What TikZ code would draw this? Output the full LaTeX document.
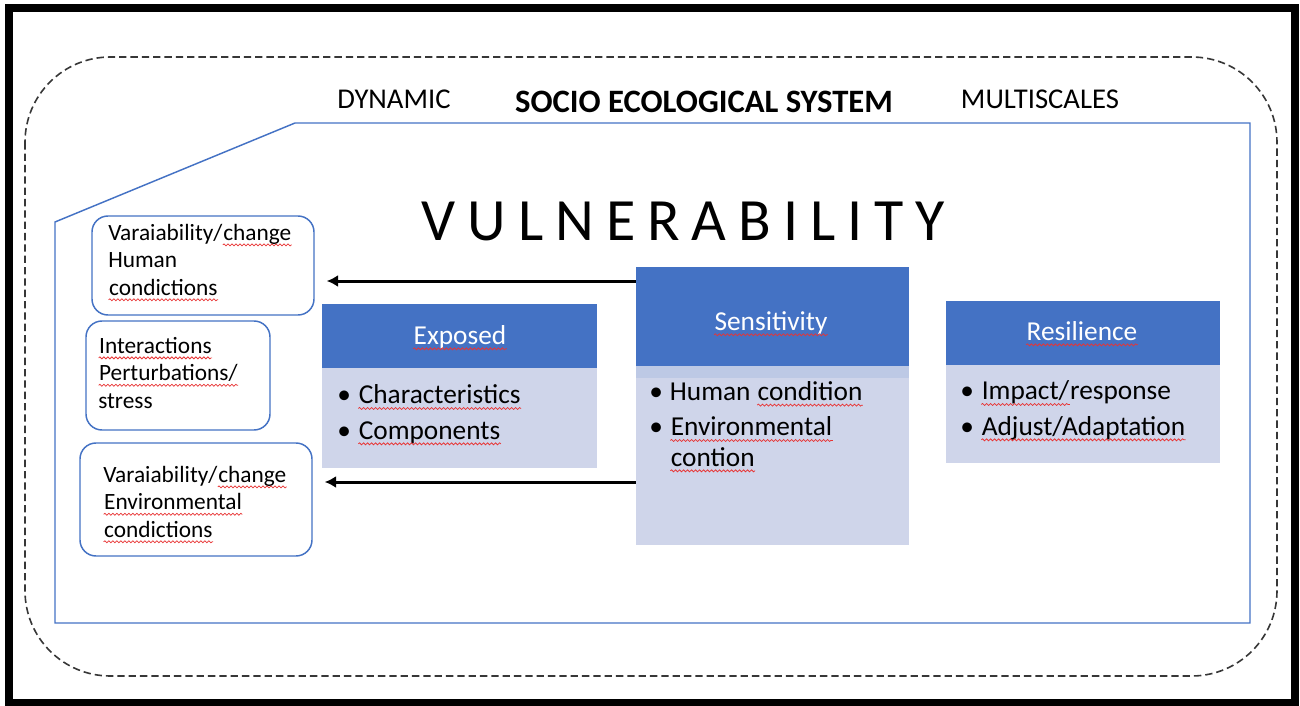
\documentclass[tikz,border=0pt]{standalone}
\usepackage{fontspec}
\setmainfont{Carlito}
\usetikzlibrary{arrows.meta,decorations.pathmorphing}

\definecolor{hdblue}{RGB}{68,114,196}
\definecolor{bdblue}{RGB}{207,213,234}
\definecolor{stripblue}{RGB}{189,201,229}
\definecolor{spellred}{RGB}{232,52,52}
\definecolor{dashgray}{RGB}{55,55,55}

\tikzset{every picture/.style={line width=0.75pt}}
\tikzset{
  condbox/.style={draw=hdblue, line width=1.1pt, rounded corners=12pt, fill=white, inner sep=0pt},
  condtext/.style={font=\fontsize{17.5}{20.6}\selectfont, align=left, inner sep=0pt},
  headbox/.style={fill=hdblue, inner sep=0pt, minimum width=#1},
  bodybox/.style={fill=bdblue, inner sep=0pt, minimum width=#1},
  headtext/.style={font=\fontsize{20.5}{24}\selectfont, text=white, inner sep=0pt},
  listtext/.style={font=\fontsize{20.5}{26.5}\selectfont, align=left, inner sep=0pt},
  captext/.style={font=\fontsize{21.5}{25}\selectfont, inner sep=0pt},
  flowarrow/.style={line width=2.25pt, -{Latex[length=8.5pt,width=9pt]}, shorten >=9pt},
  spellwave/.style={spellred, line width=0.55pt, decorate, decoration={snake, amplitude=0.75pt, segment length=3pt}}
}

% red wavy underline as in the screenshot
\newcommand\sqw[1]{\tikz[reset cm, x=1pt, y=1pt, baseline=0pt]{%
  \node [inner sep=0pt, anchor=base west] (sqw) at (0,0) {#1};
  \draw [spellwave] (sqw.base west |- 0,-3.6) -- (sqw.base east |- 0,-3.6);}}
\newcommand\bitem{\makebox[15.5pt][l]{\textbullet}}

\begin{document}
\begin{tikzpicture}[x=0.75pt,y=0.75pt,yscale=-1,xscale=1]
\useasboundingbox (0,0) rectangle (1300,706);

%Shape: Frame
\draw [line width=6pt] (8.5,8) rectangle (1295,703) ;
%Shape: Rounded Rect (dashed)
\draw [dashgray, line width=1.2pt, dash pattern=on 5.5pt off 3pt, rounded corners=64pt] (25,57) rectangle (1277,676) ;
%Shape: Polygon
\draw [hdblue, line width=1.1pt] (55,222) -- (295,123) -- (1250,123) -- (1250,623) -- (55,623) -- cycle ;

% Text Node
\node [captext, anchor=base] (dyn) at (394,109) {DYNAMIC};
% Text Node
\node [captext, font=\fontsize{24.5}{28}\selectfont\bfseries, anchor=base] (ses) at (704,113) {SOCIO ECOLOGICAL SYSTEM};
% Text Node
\node [captext, anchor=base] (msc) at (1040,109) {MULTISCALES};
% Text Node
\node [inner sep=0pt, font=\fontsize{45}{50}\selectfont\addfontfeatures{LetterSpace=20}, anchor=base west] (vul) at (421,241) {VULNERABILITY};

%Shape: Rounded Rect
\node [condbox, minimum width=166.5pt, minimum height=74.25pt] (hum) at (203,265.5) {};
\node [condtext, anchor=base west] (humtxt) at (108,295) {Varaiability/\sqw{change}\\Human\\\sqw{condictions}};
%Shape: Rounded Rect
\node [condbox, minimum width=138pt, minimum height=81.75pt] (inter) at (178,375.5) {};
\node [condtext, anchor=base west] (intertxt) at (98,408) {\sqw{Interactions}\\\sqw{Perturbations/}\\stress};
%Shape: Rounded Rect
\node [condbox, minimum width=174pt, minimum height=84.75pt] (env) at (196,499.5) {};
\node [condtext, anchor=base west] (envtxt) at (103,537) {Varaiability/\sqw{change}\\\sqw{Environmental}\\\sqw{condictions}};

%Shape: Rectangle - Exposed
\node [headbox=206.25pt, minimum height=48pt] (expH) at (459.5,336) {};
\node [bodybox=206.25pt, minimum height=75pt] (expB) at (459.5,418) {};
\node [headtext, anchor=base] (expL) at (460,344) {\sqw{Exposed}};
\node [listtext, anchor=base west] (expT) at (337,439) {\bitem\sqw{Characteristics}\\\bitem\sqw{Components}};

%Shape: Rectangle - Sensitivity
\node [headbox=204.75pt, minimum height=74.25pt] (sensH) at (772.5,316.5) {};
\node [bodybox=204.75pt, fill=stripblue, minimum height=9pt] (sensS) at (772.5,372) {};
\node [bodybox=204.75pt, minimum height=125.25pt] (sensB) at (772.5,461.5) {};
\node [headtext, anchor=base] (sensL) at (771,330) {\sqw{Sensitivity}};
\node [listtext, anchor=base west] (sensT) at (649,466) {\bitem Human \sqw{condition}\\\bitem\sqw{Environmental}\\[-3.75pt]\hspace*{15.5pt}\sqw{contion}};

%Shape: Rectangle - Resilience
\node [headbox=205.5pt, minimum height=48pt] (resH) at (1083,333) {};
\node [bodybox=205.5pt, minimum height=73.5pt] (resB) at (1083,414) {};
\node [headtext, anchor=base] (resL) at (1082,340) {\sqw{Resilience}};
\node [listtext, anchor=base west] (resT) at (960,435) {\bitem\sqw{Impact/}response\\\bitem\sqw{Adjust/Adaptation}};

%Straight Lines
\draw [flowarrow] (sensH.west |- 0,281) -- (hum.east |- 0,281) ;
\draw [flowarrow] (sensB.west |- 0,482) -- (env.east |- 0,482) ;

\end{tikzpicture}
\end{document}
